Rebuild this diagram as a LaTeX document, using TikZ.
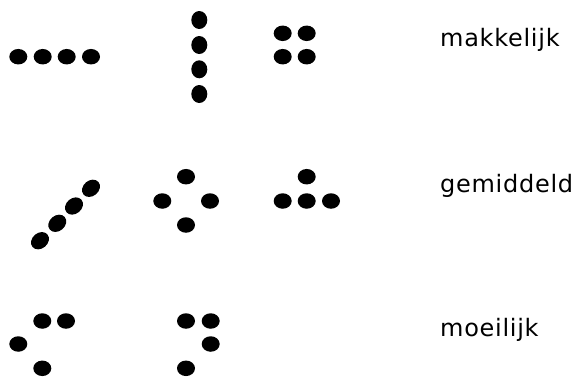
\documentclass[tikz,border=0pt]{standalone}
\usepackage{fontspec}
\newfontfamily\lvlfont[LetterSpace=3]{DejaVu Sans}
\usepackage{tikz}
\usetikzlibrary{shapes.geometric}
\definecolor{dotInk}{HTML}{000000}
\tikzset{
  dot diagram/.style={x=1pt, y=-1pt},
  dot/.style={ellipse, fill=dotInk, draw=none, inner sep=0pt,
    minimum width=18pt, minimum height=15.5pt},
  tall dot/.style={dot, minimum width=16pt, minimum height=18pt},
  slant dot/.style={dot, minimum width=19.5pt, minimum height=15.5pt, rotate=40},
  level label/.style={anchor=base west, inner sep=0pt,
    font={\fontsize{24}{28}\selectfont\lvlfont}}
}
\begin{document}
\begin{tikzpicture}[dot diagram]
\useasboundingbox (0,0) rectangle (576,376);
% makkelijk
\foreach \x [count=\i] in {18.3,42.7,66.7,91}
  \node[dot] (rowA\i) at (\x,56.7) {};
\foreach \y [count=\i] in {20,45,69.3,94}
  \node[tall dot] (colA\i) at (199.3,\y) {};
\foreach \x/\y [count=\i] in {282.7/33.3,306.7/33.3,282.7/56.7,306.7/56.7}
  \node[dot] (sqA\i) at (\x,\y) {};
\node[level label] (easy) at (440,46.7) {makkelijk};
% gemiddeld
\foreach \x/\y [count=\i] in {40/240.7,57.3/223.3,74/206,91/188.3}
  \node[slant dot] (diagB\i) at (\x,\y) {};
\foreach \x/\y [count=\i] in {186/176.7,162.3/201,210/201,186/225}
  \node[dot] (diamB\i) at (\x,\y) {};
\foreach \x/\y [count=\i] in {306.7/176.7,282.7/201,306.7/201,331/201}
  \node[dot] (triB\i) at (\x,\y) {};
\node[level label] (medium) at (440,192.3) {gemiddeld};
% moeilijk
\foreach \x/\y [count=\i] in {42.3/321,66/321,18.3/344,42.3/368.3}
  \node[dot] (hookC\i) at (\x,\y) {};
\foreach \x/\y [count=\i] in {186/321,210.7/321,210.7/344,186/368.3}
  \node[dot] (bendC\i) at (\x,\y) {};
\node[level label] (hard) at (440,336.7) {moeilijk};
\end{tikzpicture}
\end{document}
